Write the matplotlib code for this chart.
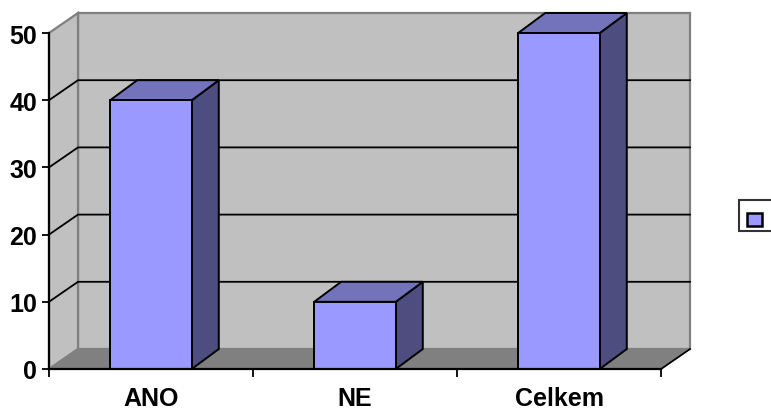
import matplotlib
matplotlib.use("Agg")
import matplotlib.pyplot as plt
from matplotlib.patches import Polygon, Patch, Rectangle
from matplotlib.legend_handler import HandlerPatch

# Data
categories = ["ANO", "NE", "Celkem"]
values = [40, 10, 50]
y_ticks = [0, 10, 20, 30, 40, 50]

# Colours
FRONT = "#9999FF"
TOP = "#7373BC"
SIDE = "#4D4D80"
WALL = "#C0C0C0"
FLOOR = "#808080"
WALL_EDGE = "#808080"

plt.rcParams["font.family"] = ["Liberation Sans", "DejaVu Sans"]
plt.rcParams["font.weight"] = "bold"

W, H = 771, 410
fig = plt.figure(figsize=(W / 100, H / 100), dpi=100)
fig.patch.set_facecolor("white")

# Front plane of the plot
left_px, right_px, top_px, bottom_px = 49, 661, 34, 370
ax = fig.add_axes([left_px / W, (H - bottom_px) / H,
                   (right_px - left_px) / W, (bottom_px - top_px) / H])
ax.set_xlim(0, len(categories))
ax.set_ylim(0, 50)
ax.patch.set_visible(False)

# Depth offsets converted from pixels to data units
x_per_px = len(categories) / (right_px - left_px)
y_per_px = 50 / (bottom_px - top_px)
wdx, wdy = 29 * x_per_px, 20 * y_per_px      # walls
bdx, bdy = 27 * x_per_px, 20 * y_per_px      # bars

x0, x1 = 0, len(categories)
ymax = 50

def poly(pts, fc, ec, lw=1.0, z=1):
    p = Polygon(pts, closed=True, facecolor=fc, edgecolor=ec, linewidth=lw,
                zorder=z, clip_on=False, joinstyle="miter")
    ax.add_patch(p)

# Back wall
poly([(x0 + wdx, wdy), (x1 + wdx, wdy), (x1 + wdx, ymax + wdy), (x0 + wdx, ymax + wdy)],
     WALL, WALL_EDGE, 1.6, 1)
# Left side wall
poly([(x0, 0), (x0 + wdx, wdy), (x0 + wdx, ymax + wdy), (x0, ymax)],
     WALL, WALL_EDGE, 1.6, 1)
# Floor
poly([(x0, 0), (x1, 0), (x1 + wdx, wdy), (x0 + wdx, wdy)],
     FLOOR, WALL_EDGE, 1.2, 1)
ax.plot([x1, x1 + wdx], [0, wdy], color="black", lw=1.2, zorder=2, clip_on=False)

# Gridlines on back and side walls
for t in y_ticks[1:-1]:
    ax.plot([x0, x0 + wdx, x1 + wdx], [t, t + wdy, t + wdy],
            color="black", lw=1.3, zorder=2, clip_on=False)

# 3D bars
bar_w = 0.4
for i, v in enumerate(values):
    c = i + 0.5
    a, b = c - bar_w / 2, c + bar_w / 2
    # side face
    poly([(b, 0), (b + bdx, bdy), (b + bdx, v + bdy), (b, v)], SIDE, "black", 1.4, 3)
    # top face
    poly([(a, v), (b, v), (b + bdx, v + bdy), (a + bdx, v + bdy)], TOP, "black", 1.4, 3)
    # front face
    poly([(a, 0), (b, 0), (b, v), (a, v)], FRONT, "black", 1.4, 4)

# Axes lines and ticks
for s in ["top", "right"]:
    ax.spines[s].set_visible(False)
for s in ["left", "bottom"]:
    ax.spines[s].set_color("black")
    ax.spines[s].set_linewidth(1.6)
    ax.spines[s].set_zorder(5)

ax.set_yticks(y_ticks)
ax.set_yticklabels([str(t) for t in y_ticks])
ax.tick_params(axis="y", direction="out", length=5, width=1.3, pad=3.5,
               labelsize=18, colors="black")

ax.set_xticks(range(len(categories) + 1))
ax.set_xticklabels([])
ax.set_xticks([i + 0.5 for i in range(len(categories))], minor=True)
ax.set_xticklabels(categories, minor=True)
ax.tick_params(axis="x", which="major", direction="out", length=6, width=1.3)
ax.tick_params(axis="x", which="minor", length=0, pad=12.5, labelsize=18)
for lbl in ax.get_yticklabels() + ax.get_xticklabels(minor=True):
    lbl.set_fontweight("bold")


# Legend key sits a little low inside its box
def low_square(legend, orig_handle, xdescent, ydescent, width, height, fontsize):
    return Rectangle((-xdescent, -ydescent - 3.6), width, height)


leg = fig.legend(handles=[Patch(facecolor=FRONT, edgecolor="black", linewidth=1.8)],
                 labels=[" "], loc="center left",
                 bbox_to_anchor=(739 / W, 1 - 216.5 / H),
                 fontsize=11, handlelength=0.95, handleheight=0.95,
                 borderpad=0.55, handletextpad=0.5, borderaxespad=0,
                 fancybox=False, frameon=True,
                 handler_map={Patch: HandlerPatch(patch_func=low_square)})
leg.get_frame().set_edgecolor("black")
leg.get_frame().set_linewidth(1.5)

fig.savefig("out.png", dpi=100)
